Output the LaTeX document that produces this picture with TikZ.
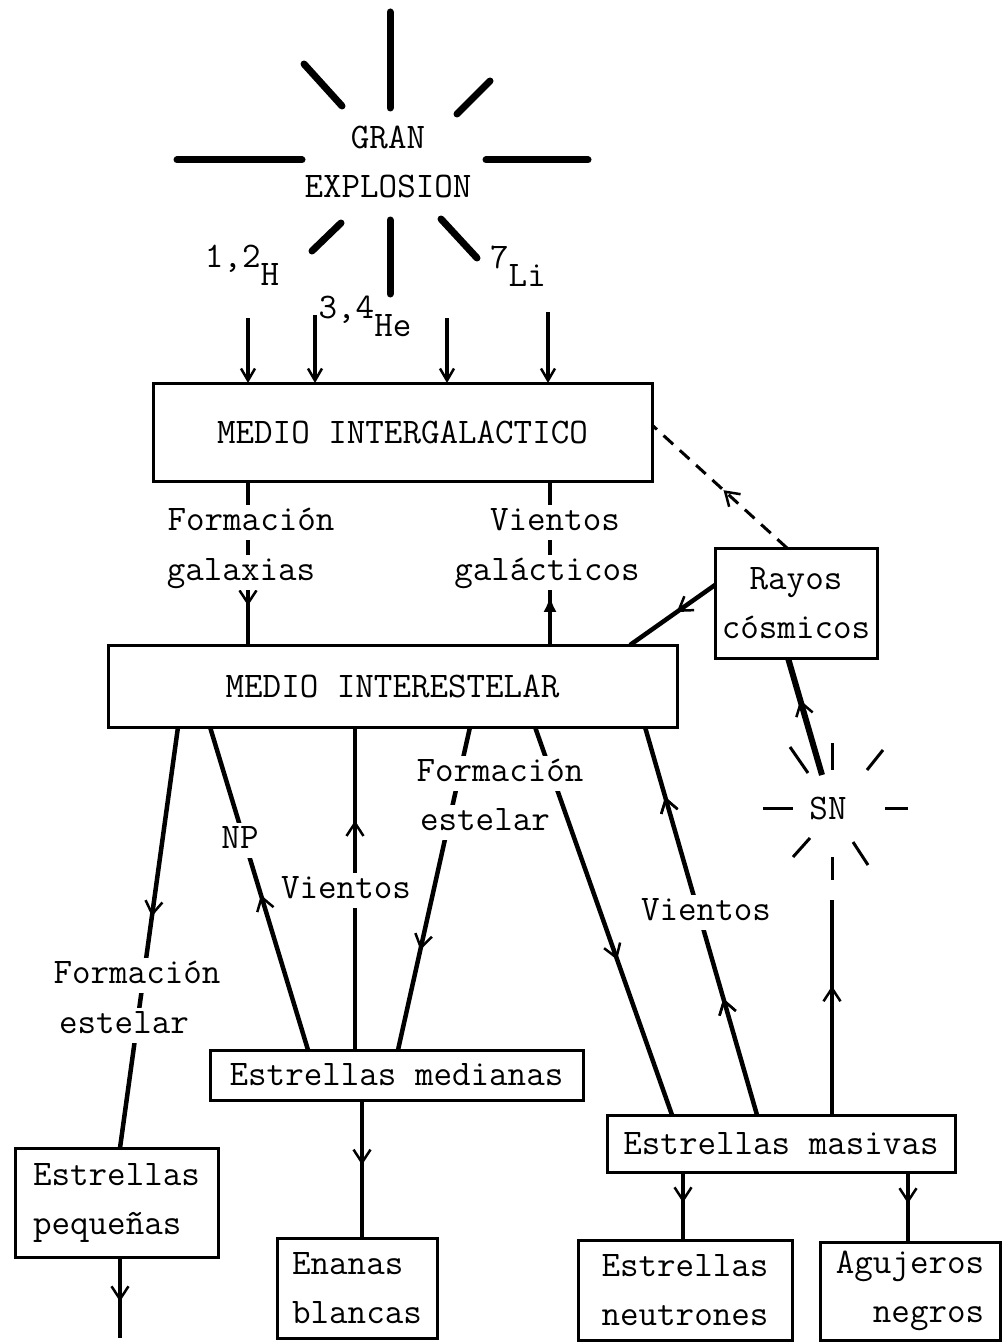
\documentclass[tikz,border=0pt]{standalone}
\usepackage{fontspec}
\usetikzlibrary{arrows.meta,decorations.markings}
\tikzset{
  txt/.style={font=\ttfamily\addfontfeatures{FakeBold=1.6}\fontsize{36}{49}\selectfont, inner sep=0pt, outer sep=0pt},
  box/.style={txt, draw, line width=3pt, align=center},
  lbl/.style={txt, fill=white, inner sep=2pt, text height=24pt, text depth=7pt},
  conn/.style={line width=4.5pt},
  midarr/.style={postaction={decorate}, decoration={markings, mark=at position #1 with {\arrow{Straight Barb[length=13pt,width=17pt,line width=2.5pt]}}}},
  ray/.style={line width=7pt, line cap=round},
  snray/.style={line width=3pt},
}
\begin{document}
\begin{tikzpicture}[x=1pt,y=-1pt]
\fill[white] (0,0) rectangle (1005,1343);
\useasboundingbox (0,0) rectangle (1005,1343);

% ---- Big bang ----
\node[txt, align=center] (gran) at (388,162) {GRAN\\EXPLOSION};
\draw[ray] (390,12) -- (390,108);
\draw[ray] (304,64) -- (342,106);
\draw[ray] (490,81) -- (457,114);
\draw[ray] (177,160) -- (302,160);
\draw[ray] (486,160) -- (588,160);
\draw[ray] (341,223) -- (312,251);
\draw[ray] (390,220) -- (390,294);
\draw[ray] (441,219) -- (477,258);
\node[txt] (h12) at (242,265) {\raisebox{9pt}{1,2}\raisebox{-9pt}{H}};
\node[txt] (he34) at (365,316) {\raisebox{9pt}{3,4}\raisebox{-9pt}{He}};
\node[txt] (li7) at (518,266) {\raisebox{9pt}{7}\raisebox{-9pt}{Li}};

% ---- boxes ----
\node[box, minimum width=499pt, minimum height=98pt] (mig) at (402.5,432) {MEDIO INTERGALACTICO};
\node[box, minimum width=569pt, minimum height=82pt] (mie) at (392.5,686) {MEDIO INTERESTELAR};
\node[box, minimum width=162pt, minimum height=110pt] (rayos) at (796,603) {Rayos\\cósmicos};
\node[box, minimum width=373pt, minimum height=50pt] (med) at (396.5,1075) {Estrellas medianas};
\node[box, minimum width=203pt, minimum height=109pt, align=left] (peq) at (116.5,1202.5) {Estrellas\\pequeñas};
\node[box, minimum width=160pt, minimum height=100pt, align=left] (enanas) at (357,1288) {Enanas\\blancas};
\node[box, minimum width=348pt, minimum height=57pt] (mas) at (781,1143.5) {Estrellas masivas};
\node[box, minimum width=214pt, minimum height=100pt] (neut) at (685,1290) {Estrellas\\neutrones};
\node[box, minimum width=180pt, minimum height=98pt, align=right] (aguj) at (910,1291) {Agujeros\\negros};

% ---- SN ----
\node[txt] (sn) at (828,808) {SN};
\draw[snray] (832,743) -- (832,770);
\draw[snray] (790,747) -- (808,773);
\draw[snray] (883,750) -- (867,770);
\draw[snray] (763,808) -- (793,808);
\draw[snray] (885,808) -- (908,808);
\draw[snray] (793,857) -- (810,838);
\draw[snray] (853,842) -- (868,865);
\draw[snray] (832,857) -- (832,880);
\coordinate (snTop) at (822,775);
\coordinate (snBot) at (832,900);

% ---- inputs to intergalactic medium ----
\coordinate (in1) at (248,318);
\coordinate (in2) at (315,315);
\coordinate (in3) at (447,318);
\coordinate (in4) at (548,312);
\draw[conn, -{Straight Barb[length=12pt,width=14pt,line width=2.5pt]}] (in1) -- ([xshift=95pt]mig.north west);
\draw[conn, -{Straight Barb[length=12pt,width=14pt,line width=2.5pt]}] (in2) -- ([xshift=162pt]mig.north west);
\draw[conn, -{Straight Barb[length=12pt,width=14pt,line width=2.5pt]}] (in3) -- ([xshift=294pt]mig.north west);
\draw[conn, -{Straight Barb[length=12pt,width=14pt,line width=2.5pt]}] (in4) -- ([xshift=395pt]mig.north west);

% ---- connectors ----
\draw[conn, midarr=0.76] ([xshift=95pt]mig.south west) -- ([xshift=140pt]mie.north west);
\draw[conn, postaction={decorate}, decoration={markings, mark=at position 0.3 with {\arrow{Latex[length=16pt,width=13pt]}}}] ([xshift=442pt]mie.north west) -- ([xshift=397pt]mig.south west);
\draw[line width=3pt, dashed, dash pattern=on 13pt off 9pt, midarr=0.47] ([xshift=72pt]rayos.north west) -- ([yshift=-42pt]mig.north east);
\draw[conn, midarr=0.45] ([yshift=-37pt]rayos.north west) -- ([xshift=522pt]mie.north west);
\draw[line width=6pt, midarr=0.64] (snTop) -- ([xshift=73pt]rayos.south west);

\draw[conn, midarr=0.45] ([xshift=70pt]mie.south west) -- ([xshift=105pt]peq.north west);
\draw[conn, midarr=0.48] ([xshift=98pt]med.north west) -- ([xshift=102pt]mie.south west);
\draw[conn, midarr=0.71] ([xshift=145pt]med.north west) -- ([xshift=247pt]mie.south west);
\draw[conn, midarr=0.69] ([xshift=362pt]mie.south west) -- ([xshift=188pt]med.north west);
\draw[conn, midarr=0.6] ([xshift=427pt]mie.south west) -- ([xshift=65pt]mas.north west);
\draw[conn, midarr=0.3, postaction={decorate}, decoration={markings, mark=at position 0.82 with {\arrow{Straight Barb[length=13pt,width=17pt,line width=2.5pt]}}}] ([xshift=150pt]mas.north west) -- ([xshift=537pt]mie.south west);
\draw[conn, midarr=0.6] ([xshift=225pt]mas.north west) -- (snBot);

\coordinate (peqOut) at (120,1338);
\draw[conn, midarr=0.55] ([xshift=105pt]peq.south west) -- (peqOut);
\draw[conn, midarr=0.47] ([xshift=152pt]med.south west) -- ([xshift=85pt]enanas.north west);
\draw[conn, midarr=0.45] ([xshift=76pt]mas.south west) -- ([xshift=105pt]neut.north west);
\draw[conn, midarr=0.45] ([xshift=301pt]mas.south west) -- ([xshift=88pt]aguj.north west);

% ---- labels ----
\node[lbl] (fg1) at (251,522) {Formación};
\node[lbl] (fg2) at (241,572) {galaxias};
\node[lbl] (vg1) at (555,522) {Vientos};
\node[lbl] (vg2) at (547,572) {galácticos};
\node[lbl] (np) at (240,840) {NP};
\node[lbl] (v1) at (346,890) {Vientos};
\node[lbl] (fe1) at (500,773) {Formación};
\node[lbl] (fe2) at (485,822) {estelar};
\node[lbl] (fs1) at (137,975) {Formación};
\node[lbl] (fs2) at (124,1025) {estelar};
\node[lbl] (v2) at (706,912) {Vientos};
\end{tikzpicture}
\end{document}
